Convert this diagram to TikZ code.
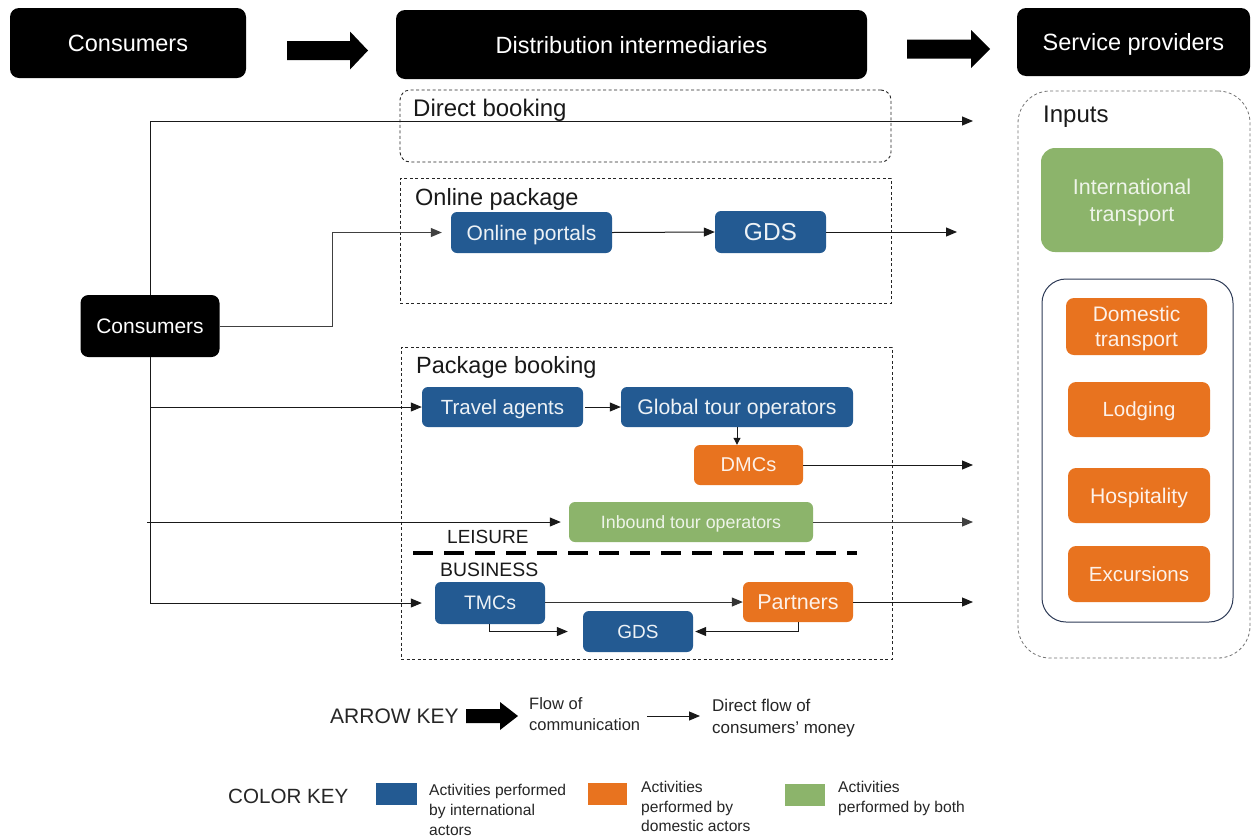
\documentclass[tikz,border=0pt]{standalone}
\usepackage{fontspec}
\setmainfont{Liberation Sans}
\usetikzlibrary{arrows.meta}

\definecolor{intlblue}{HTML}{235A92}
\definecolor{domorange}{HTML}{E8731F}
\definecolor{bothgreen}{HTML}{8CB46B}
\definecolor{keytext}{HTML}{262626}
\definecolor{innerline}{HTML}{2E3B57}

\newcommand{\fs}[1]{\fontsize{#1}{#1}\selectfont}

\tikzset{
  hdrbox/.style={fill=black, rounded corners=9pt, text=white, inner sep=0pt, text depth=0pt, font=\fs{23.5}},
  actbox/.style={rounded corners=6pt, inner sep=0pt, align=center, text depth=0pt, font=\fs{20.5}},
  intlbox/.style={actbox, fill=intlblue, text=white!92!intlblue},
  dombox/.style={actbox, fill=domorange, text=white!90!domorange},
  bothbox/.style={actbox, fill=bothgreen, text=white!85!bothgreen},
  groupbox/.style={draw=black!85, dash pattern=on 3pt off 2.5pt, line width=0.9pt, inner sep=0pt},
  grouplabel/.style={anchor=base west, inner sep=0pt, text=black!90, font=\fs{23.5}},
  money/.style={draw=black!90, line width=1pt, -{Triangle[length=11pt,width=9pt]}},
  shortmoney/.style={draw=black!90, line width=1pt, -{Triangle[length=7pt,width=7pt]}},
  keylabel/.style={anchor=west, inner sep=0pt, text=keytext, font=\fs{21}},
  keynote/.style={anchor=west, inner sep=0pt, text=keytext, align=left},
  swatch/.style={inner sep=0pt, minimum width=41pt, minimum height=22pt},
  fatarrow/.style={fill=black}
}

\begin{document}
\begin{tikzpicture}[x=1pt, y=-1pt]
\useasboundingbox[fill=white] (0,0) rectangle (1252,836);

% ---------- top row ----------
\node[hdrbox, minimum width=236, minimum height=70] (hcons) at (128,43) {Consumers};
\node[hdrbox, minimum width=471, minimum height=69] (hdist) at (631.5,44.5) {Distribution intermediaries};
\node[hdrbox, minimum width=233, minimum height=68] (hserv) at (1133.5,42) {Service providers};

\fill[fatarrow] (287,41) -- (350,41) -- (350,31.5) -- (368,50.5) -- (350,69.5) -- (350,60) -- (287,60) -- cycle;
\fill[fatarrow] (907,39.5) -- (971,39.5) -- (971,30) -- (990,49) -- (971,68) -- (971,58.5) -- (907,58.5) -- cycle;

% ---------- channel groups ----------
\node[groupbox, rounded corners=10pt, minimum width=491, minimum height=72] (gdirect) at (645.5,126) {};
\node[grouplabel, font=\fs{24}] (ldirect) at (413,116) {Direct booking};

\node[groupbox, minimum width=491, minimum height=125] (gonline) at (645.5,240.5) {};
\node[grouplabel] (lonline) at (415,205) {Online package};

\node[groupbox, minimum width=491, minimum height=312] (gpackage) at (646.5,503) {};
\node[grouplabel] (lpackage) at (416,373) {Package booking};

% ---------- providers column ----------
\node[draw=black!55, dash pattern=on 3pt off 2.5pt, line width=0.8pt, rounded corners=32pt,
      inner sep=0pt, minimum width=232, minimum height=567] (ginputs) at (1134,374.5) {};
\node[grouplabel, font=\fs{24}] (linputs) at (1043,122) {Inputs};
\node[draw=innerline, line width=1pt, rounded corners=24pt, inner sep=0pt,
      minimum width=191, minimum height=343] (gdomestic) at (1137.5,450.5) {};

\node[bothbox, rounded corners=14pt, minimum width=182, minimum height=104, font=\fontsize{21.5}{27}\selectfont] (intl) at (1132,200) {International\\transport};
\node[dombox, rounded corners=8pt, minimum width=141, minimum height=57, font=\fontsize{21}{25}\selectfont] (domtr) at (1136.5,326.5) {Domestic\\transport};
\node[dombox, rounded corners=8pt, minimum width=142, minimum height=55] (lodging) at (1139,409.5) {Lodging};
\node[dombox, rounded corners=8pt, minimum width=142, minimum height=55, font=\fs{21.2}] (hosp) at (1139,495.5) {Hospitality};
\node[dombox, rounded corners=8pt, minimum width=142, minimum height=56] (exc) at (1139,574) {Excursions};

% ---------- actors ----------
\node[hdrbox, rounded corners=8pt, minimum width=139, minimum height=62, font=\fs{21}] (cons) at (150,326) {Consumers};

\node[intlbox, minimum width=161, minimum height=41, font=\fs{21}] (portals) at (531.5,232.5) {Online portals};
\node[intlbox, minimum width=111, minimum height=42, font=\fs{24.5}] (gdsa) at (770.5,232) {GDS};

\node[intlbox, minimum width=161, minimum height=40] (travel) at (502.5,407) {Travel agents};
\node[intlbox, minimum width=232, minimum height=40, font=\fs{21.2}] (gto) at (737,407) {Global tour operators};
\node[dombox, minimum width=109, minimum height=40, font=\fs{20}] (dmc) at (748.5,465) {DMCs};
\node[bothbox, minimum width=244, minimum height=40, font=\fs{17.8}] (inbound) at (691,522) {Inbound tour operators};

\node[anchor=base west, inner sep=0pt, font=\fs{19}, text=black!90] (leisure) at (447,543) {LEISURE};
\draw[line width=4pt, dash pattern=on 20pt off 11pt] (413,553) -- (857,553);
\node[anchor=base west, inner sep=0pt, font=\fs{19.4}, text=black!90] (business) at (440,576) {BUSINESS};

\node[intlbox, minimum width=110, minimum height=42, font=\fs{19.5}] (tmc) at (490,603) {TMCs};
\node[dombox, minimum width=110, minimum height=40, font=\fs{21.5}] (partners) at (798,602) {Partners};
\node[intlbox, minimum width=110, minimum height=41, font=\fs{19}] (gdsb) at (638,631.5) {GDS};

% ---------- free ends on the providers side ----------
\coordinate (trunktop) at (150,121);
\coordinate (trunkbot) at (150,603);
\coordinate (toDirect) at (973,121);
\coordinate (toOnline) at (957,232);
\coordinate (toDmc) at (973,465);
\coordinate (toInbound) at (973,522);
\coordinate (toPartners) at (973,602);
\coordinate (inboundStart) at (147,522);

% ---------- money flows ----------
\draw[line width=1pt, draw=black!90] (cons.north) -- (trunktop);
\draw[line width=1pt, draw=black!90] (cons.south) -- (trunkbot);
\draw[money] (trunktop) -- (toDirect);
\draw[money, draw=black!75] (cons.east) -- (332,326) |- ([xshift=-9pt]portals.west);
\draw[money] (portals.east) -- (gdsa.west);
\draw[money] (gdsa.east) -- (toOnline);
\draw[money] (trunktop |- travel.west) -- (travel.west);
\draw[money] ([xshift=2pt]travel.east) -- (gto.west);
\draw[shortmoney] (gto.south) -- (gto.south |- dmc.north);
\draw[money] (dmc.east) -- (toDmc);
\draw[money] (inboundStart) -- ([xshift=-8pt]inbound.west);
\draw[money, draw=black!75] (inbound.east) -- (toInbound);
\draw[money] (trunkbot) -- ([xshift=-13pt]tmc.west);
\draw[money, draw=black!80] (tmc.east |- partners.west) -- (partners.west);
\draw[money] (partners.east) -- (toPartners);
\draw[money] ([xshift=-1pt]tmc.south) |- ([xshift=-15pt]gdsb.west);
\draw[money] (partners.south) |- ([xshift=2pt]gdsb.east);

% ---------- keys ----------
\node[keylabel] (arrowkey) at (330,716) {ARROW KEY};
\fill[fatarrow] (466,709) -- (500,709) -- (500,702) -- (518,716) -- (500,730) -- (500,723) -- (466,723) -- cycle;
\node[keynote, font=\fontsize{16.5}{21}\selectfont] (flowcomm) at (529,714.5) {Flow of\\communication};
\coordinate (moneyA) at (647,716);
\coordinate (moneyB) at (700,716);
\draw[money] (moneyA) -- (moneyB);
\node[keynote, font=\fontsize{17}{22}\selectfont] (flowmoney) at (712,718) {Direct flow of\\consumers’ money};

\node[keylabel, font=\fs{20.6}] (colorkey) at (228,796) {COLOR KEY};
\node[swatch, fill=intlblue] (swblue) at (396,794) {};
\node[keynote, font=\fontsize{15.6}{20}\selectfont] (kblue) at (429,809.5) {Activities performed\\by international\\actors};
\node[swatch, fill=domorange, minimum width=39pt] (sworange) at (607.5,794) {};
\node[keynote, font=\fontsize{15.6}{19.5}\selectfont] (korange) at (641,806.5) {Activities\\performed by\\domestic actors};
\node[swatch, fill=bothgreen, minimum width=40pt] (swgreen) at (805,794.5) {};
\node[keynote, font=\fontsize{15.6}{19.5}\selectfont] (kgreen) at (838,798.5) {Activities\\performed by both};

\end{tikzpicture}
\end{document}
